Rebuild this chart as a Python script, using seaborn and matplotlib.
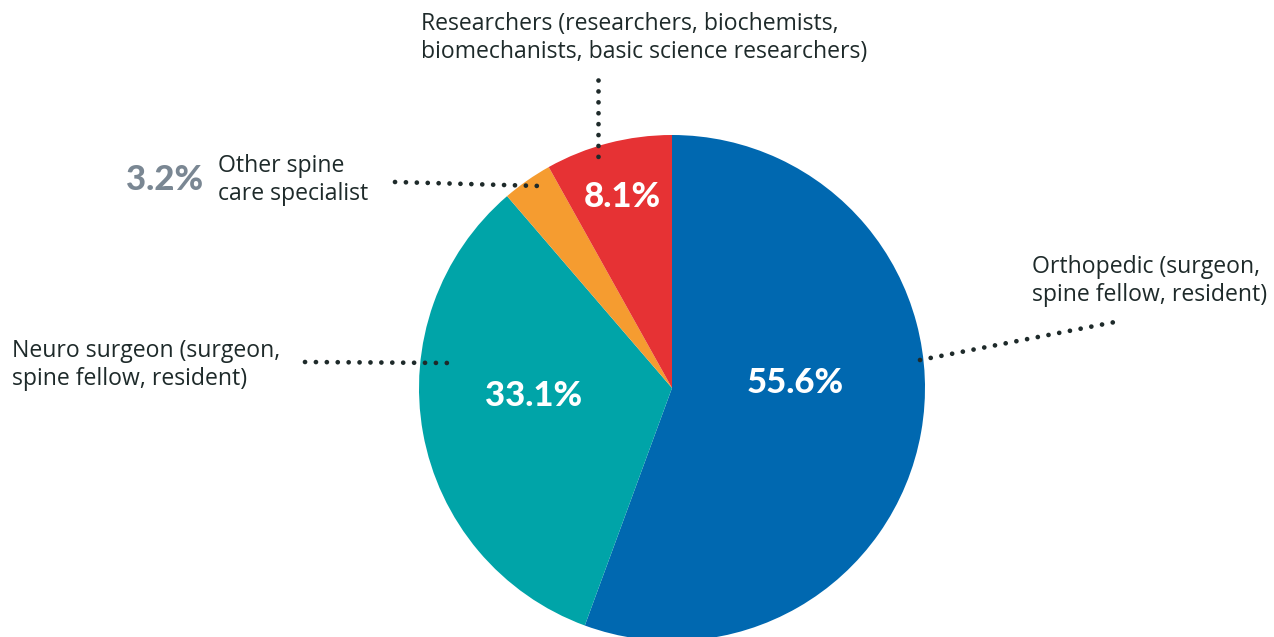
import matplotlib
matplotlib.use("Agg")
import matplotlib.pyplot as plt
import seaborn as sns

# data
categories = ["Orthopedic (surgeon,\nspine fellow, resident)",
              "Neuro surgeon (surgeon,\nspine fellow, resident)",
              "Other spine\ncare specialist",
              "Researchers (researchers, biochemists,\nbiomechanists, basic science researchers)"]
shares = [55.6, 33.1, 3.2, 8.1]
pct_labels = ["55.6%", "33.1%", "3.2%", "8.1%"]
colors = ["#0068b0", "#00a4a8", "#f59c30", "#e63234"]

sns.set_style("white")
plt.rcParams['font.family'] = ['Open Sans', 'DejaVu Sans']

W, H = 1274, 637
fig = plt.figure(figsize=(W / 100, H / 100), dpi=100)
ax = fig.add_axes([0, 0, 1, 1])

# pie (y axis is inverted, so counterclock=True draws clockwise on screen)
ax.pie(shares, colors=sns.color_palette(colors), startangle=-90, counterclock=True,
       center=(672, 388), radius=253, frame=True,
       wedgeprops=dict(linewidth=0, antialiased=True))
ax.set_xlim(0, W)
ax.set_ylim(H, 0)
ax.set_aspect('equal')
ax.axis('off')

txt = "#1e2a2a"
fs = 16.6
bold = dict(fontsize=25, fontweight=900, family=['Lato', 'DejaVu Sans'], va="center")

# percentage labels
ax.text(795, 383, pct_labels[0], color="white", ha="center", **bold)
ax.text(534, 396, pct_labels[1], color="white", ha="center", **bold)
ax.text(622, 197, pct_labels[3], color="white", ha="center", **bold)
ax.text(203, 180, pct_labels[2], color="#7a8793", ha="right", **bold)

# category labels
lbl = dict(color=txt, fontsize=fs, ha="left", va="center", linespacing=1.2)
ax.text(1032, 281, categories[0], **lbl)
ax.text(12, 365, categories[1], **lbl)
ax.text(218, 180, categories[2], **lbl)
ax.text(421, 38, categories[3], **lbl)

# dotted leader lines
leaders = [((920, 360), (1115, 322)),
           ((305, 362), (450, 363)),
           ((395, 182), (540, 186)),
           ((598, 80), (598, 160))]
for (x0, y0), (x1, y1) in leaders:
    ax.plot([x0, x1], [y0, y1], color="#1e2a2a", linewidth=3.4,
            linestyle=(0, (0.01, 2.3)), dash_capstyle="round", solid_capstyle="round")

fig.savefig("out.png", dpi=100)
